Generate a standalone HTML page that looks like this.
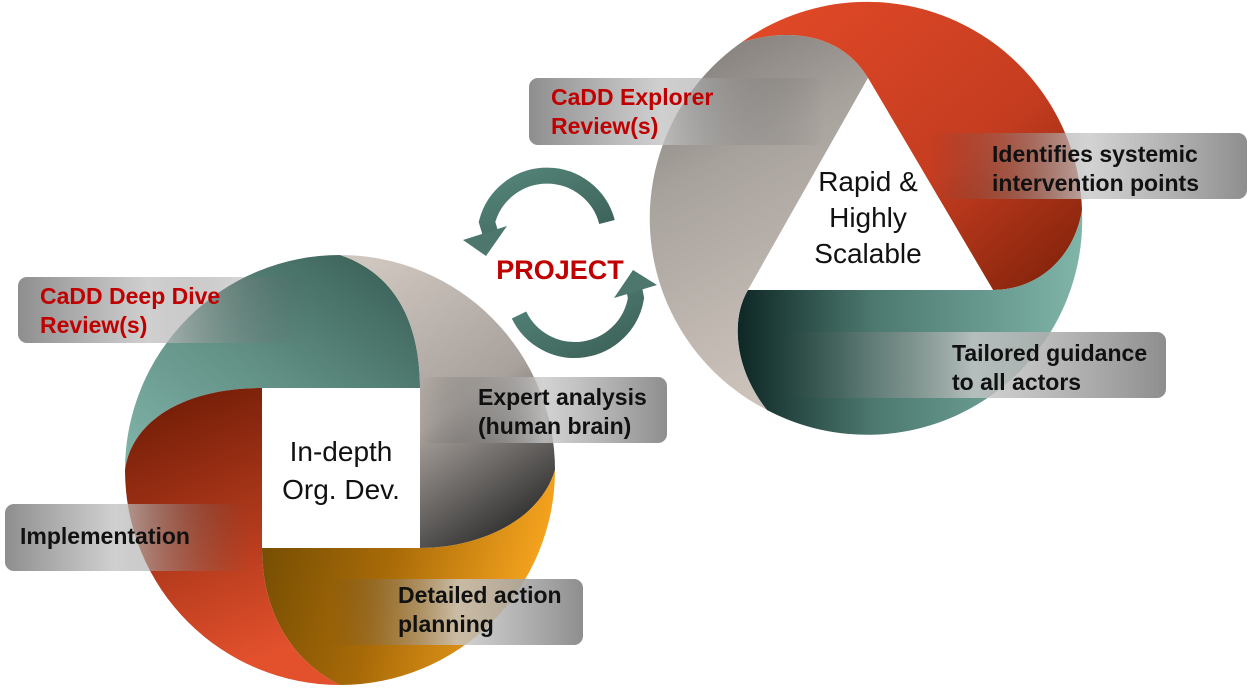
<!DOCTYPE html>
<html><head><meta charset="utf-8"><style>
html,body{margin:0;padding:0;background:#fff;}
svg{display:block;}
text{font-family:"Liberation Sans",sans-serif;}
</style></head><body>
<svg width="1257" height="694" viewBox="0 0 1257 694" xmlns="http://www.w3.org/2000/svg">
<defs>
<linearGradient id="lt" x1="0" y1="1" x2="1" y2="0"><stop offset="0" stop-color="#82b5aa"/><stop offset="0.5" stop-color="#5f8d82"/><stop offset="1" stop-color="#355a52"/></linearGradient>
<linearGradient id="lr" x1="0" y1="0" x2="0.3" y2="1"><stop offset="0" stop-color="#6a1904"/><stop offset="1" stop-color="#e2502c"/></linearGradient>
<linearGradient id="lo" x1="0" y1="0" x2="1" y2="0.2"><stop offset="0" stop-color="#6e4a02"/><stop offset="0.5" stop-color="#a86a08"/><stop offset="1" stop-color="#f6a41e"/></linearGradient>
<linearGradient id="lg" x1="0.2" y1="0" x2="0.7" y2="1"><stop offset="0" stop-color="#cfc6bf"/><stop offset="0.55" stop-color="#a8a19c"/><stop offset="1" stop-color="#303030"/></linearGradient>
<linearGradient id="rr" x1="0" y1="0" x2="1" y2="1"><stop offset="0" stop-color="#e34a28"/><stop offset="0.6" stop-color="#c43c20"/><stop offset="1" stop-color="#7a2008"/></linearGradient>
<linearGradient id="rg" x1="0" y1="0" x2="0.3" y2="1"><stop offset="0" stop-color="#7a7672"/><stop offset="0.4" stop-color="#a8a29d"/><stop offset="1" stop-color="#cbc2ba"/></linearGradient>
<linearGradient id="rt" x1="0" y1="0" x2="1" y2="0"><stop offset="0" stop-color="#0e2724"/><stop offset="0.4" stop-color="#4d7a70"/><stop offset="1" stop-color="#80b5aa"/></linearGradient>
<linearGradient id="ar" x1="0" y1="0" x2="1" y2="1"><stop offset="0" stop-color="#55857a"/><stop offset="1" stop-color="#3c6158"/></linearGradient>
<linearGradient id="bl" x1="0" y1="0" x2="1" y2="0"><stop offset="0" stop-color="#7a7a7a" stop-opacity="0.85"/><stop offset="0.45" stop-color="#c4c4c4" stop-opacity="0.8"/><stop offset="1" stop-color="#555" stop-opacity="0"/></linearGradient>
<linearGradient id="br" x1="0" y1="0" x2="1" y2="0"><stop offset="0" stop-color="#444" stop-opacity="0"/><stop offset="0.5" stop-color="#c8c8c8" stop-opacity="0.8"/><stop offset="1" stop-color="#888" stop-opacity="0.95"/></linearGradient>
</defs>

<!-- left circle -->
<path d="M420,388 L262,388 C185,388 132,420 125,470 A215,215 0 0 1 340,255 C400,275 420,330 420,388 Z" fill="url(#lt)"/>
<path d="M420,548 L420,388 C420,330 400,275 340,255 A215,215 0 0 1 555,470 C540,520 480,548 420,548 Z" fill="url(#lg)"/>
<path d="M262,548 L420,548 C480,548 540,520 555,470 A215,215 0 0 1 340,685 C290,660 262,610 262,548 Z" fill="url(#lo)"/>
<path d="M262,388 L262,548 C262,610 290,660 340,685 A215,215 0 0 1 125,470 C132,420 185,388 262,388 Z" fill="url(#lr)"/>
<rect x="262" y="388" width="158" height="160" fill="#fff"/>
<text x="341" y="461" font-size="28" text-anchor="middle" fill="#111">In-depth</text>
<text x="341" y="499" font-size="28" text-anchor="middle" fill="#111">Org. Dev.</text>

<!-- right circle -->
<path d="M868,78 L993,290 C1040,290 1075,255 1082,210 A215,215 0 0 0 742,42 C800,25 845,40 868,78 Z" fill="url(#rr)"/>
<path d="M748,290 L993,290 C1040,290 1075,255 1082,210 A215,215 0 0 1 767,410 C735,370 730,320 748,290 Z" fill="url(#rt)"/>
<path d="M868,78 L748,290 C730,320 735,370 767,410 A215,215 0 0 1 742,42 C800,25 845,40 868,78 Z" fill="url(#rg)"/>
<polygon points="868,78 748,290 993,290" fill="#fff"/>
<text x="868" y="191" font-size="28" text-anchor="middle" fill="#111">Rapid &amp;</text>
<text x="868" y="227" font-size="28" text-anchor="middle" fill="#111">Highly</text>
<text x="868" y="263" font-size="28" text-anchor="middle" fill="#111">Scalable</text>

<!-- arrows -->
<path d="M607,222 A62,62 0 0 0 487,222 L490,232" fill="none" stroke="url(#ar)" stroke-width="16"/>
<polygon points="463,240 507,226 486,256" fill="#4d776d"/>
<path d="M519,315 A62,62 0 0 0 636,298 L634,288" fill="none" stroke="url(#ar)" stroke-width="16"/>
<polygon points="633,270 614,298 657,285" fill="#4d776d"/>
<text x="560" y="279" font-size="27" font-weight="bold" text-anchor="middle" fill="#c00000">PROJECT</text>

<!-- label boxes -->
<rect x="18" y="277" width="290" height="66" rx="9" fill="url(#bl)"/>
<text x="40" y="304" font-size="23" font-weight="bold" fill="#c00000">CaDD Deep Dive</text>
<text x="40" y="333" font-size="23" font-weight="bold" fill="#c00000">Review(s)</text>

<rect x="5" y="504" width="245" height="67" rx="9" fill="url(#bl)"/>
<text x="20" y="544" font-size="23" font-weight="bold" fill="#111">Implementation</text>

<rect x="420" y="377" width="247" height="66" rx="9" fill="url(#br)"/>
<text x="478" y="405" font-size="23" font-weight="bold" fill="#111">Expert analysis</text>
<text x="478" y="434" font-size="23" font-weight="bold" fill="#111">(human brain)</text>

<rect x="330" y="579" width="253" height="66" rx="9" fill="url(#br)"/>
<text x="398" y="603" font-size="23" font-weight="bold" fill="#111">Detailed action</text>
<text x="398" y="632" font-size="23" font-weight="bold" fill="#111">planning</text>

<rect x="529" y="78" width="295" height="67" rx="9" fill="url(#bl)"/>
<text x="551" y="105" font-size="23" font-weight="bold" fill="#c00000">CaDD Explorer</text>
<text x="551" y="134" font-size="23" font-weight="bold" fill="#c00000">Review(s)</text>

<rect x="930" y="133" width="317" height="66" rx="9" fill="url(#br)"/>
<text x="992" y="162" font-size="23" font-weight="bold" fill="#111">Identifies systemic</text>
<text x="992" y="191" font-size="23" font-weight="bold" fill="#111">intervention points</text>

<rect x="780" y="332" width="386" height="66" rx="9" fill="url(#br)"/>
<text x="952" y="361" font-size="23" font-weight="bold" fill="#111">Tailored guidance</text>
<text x="952" y="390" font-size="23" font-weight="bold" fill="#111">to all actors</text>
</svg>
</body></html>
